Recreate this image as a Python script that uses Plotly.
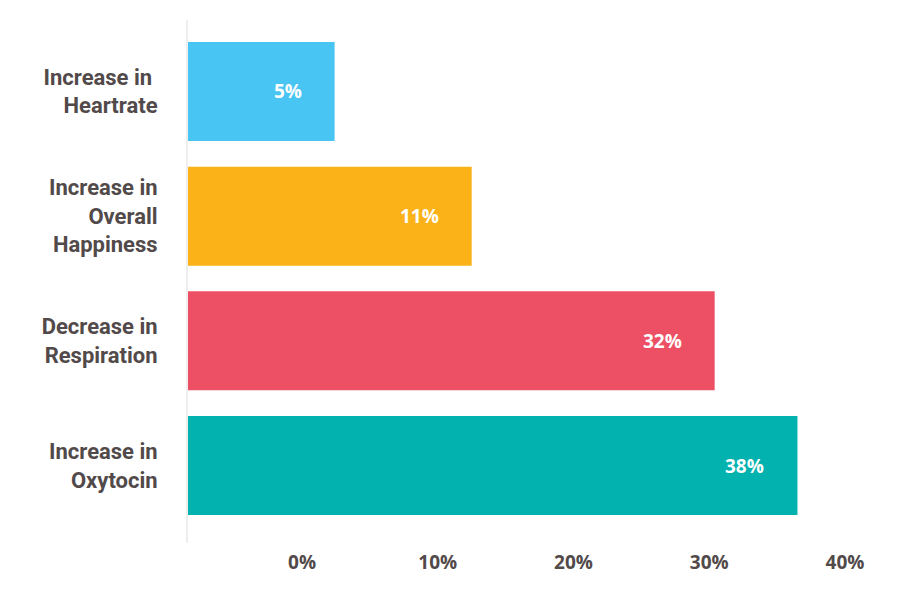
import plotly.graph_objects as go

# Data (bottom-to-top order on the category axis)
categories = [
    "Increase in<br>Oxytocin",
    "Decrease in<br>Respiration",
    "Increase in<br>Overall<br>Happiness",
    "Increase in <br>Heartrate",
]
value_labels = ["38%", "32%", "11%", "5%"]
bar_ends = [36.5, 30.4, 12.5, 2.4]          # bar end positions read against the % axis
axis_start = -8.4                            # where the bars begin on the % axis
bar_colors = ["#01B2AE", "#ED5064", "#FBB218", "#49C5F3"]
tick_values = [0, 10, 20, 30, 40]
tick_labels = ["0%", "10%", "20%", "30%", "40%"]

text_color = "#524a4a"
font_family = "Roboto, 'Open Sans', sans-serif"
num_font = "'Open Sans', Roboto, sans-serif"

fig = go.Figure()
fig.add_trace(go.Bar(
    y=categories,
    x=[e - axis_start for e in bar_ends],
    base=axis_start,
    orientation="h",
    marker=dict(color=bar_colors, line=dict(width=0)),
    hoverinfo="skip",
    showlegend=False,
))

for cat, end, lab in zip(categories, bar_ends, value_labels):
    fig.add_annotation(
        x=end, y=cat, text=lab, showarrow=False,
        xanchor="right", yanchor="middle", xshift=-31,
        font=dict(family=num_font, size=19, color="white", weight=700),
    )

fig.update_layout(
    width=920, height=600, autosize=False,
    margin=dict(l=180, r=10, t=12, b=65),
    paper_bgcolor="white", plot_bgcolor="white",
    bargap=0.206,
    font=dict(family=font_family, color=text_color),
    xaxis=dict(
        range=[axis_start, 45.38],
        tickvals=tick_values, ticktext=tick_labels,
        showgrid=False, zeroline=False, showline=False,
        ticks="", ticklabelstandoff=6,
        tickfont=dict(family=num_font, size=19, color=text_color, weight=700),
    ),
    yaxis=dict(
        type="category",
        categoryorder="array", categoryarray=categories,
        range=[-0.621, 3.573],
        showgrid=False, zeroline=False,
        showline=True, linecolor="#eeeeee", linewidth=2,
        ticks="", ticklabelstandoff=24,
        tickfont=dict(family=font_family, size=22, color=text_color, weight=700),
    ),
)

fig.write_html("out.html")
